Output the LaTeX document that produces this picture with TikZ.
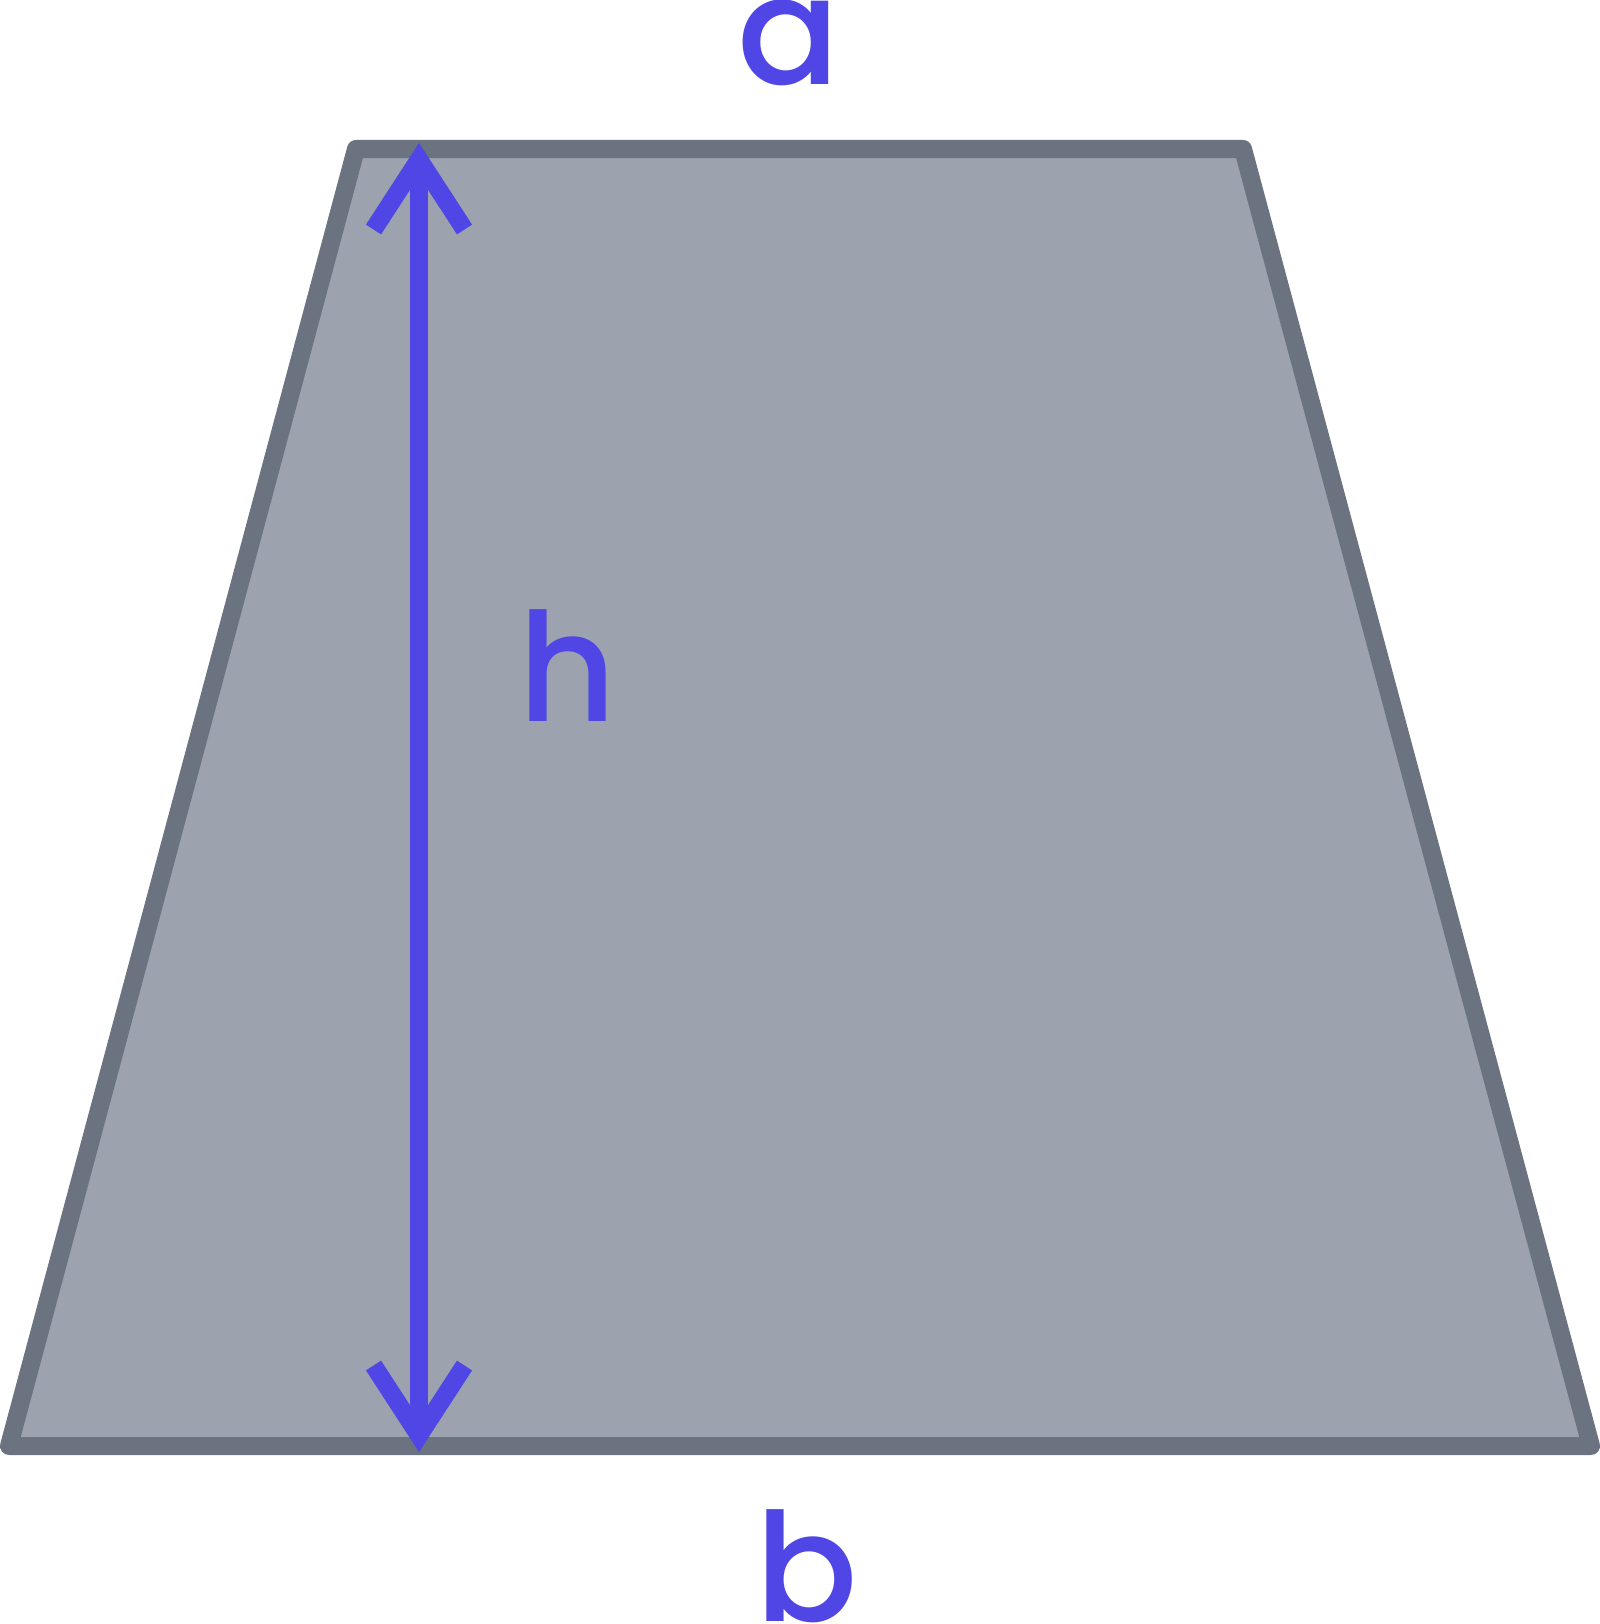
\documentclass[tikz,border=0pt]{standalone}
\usepackage{fontspec}
\setmainfont{Poppins Medium}
\usepackage{tikz}
\usetikzlibrary{calc,positioning}
\definecolor{ink}{HTML}{4F46E5}
\definecolor{edge}{HTML}{6B7280}
\definecolor{face}{HTML}{9CA3AF}
\tikzset{%
	side/.style = {draw=edge, fill=face, line width=0.18cm, line join=round},
	dim/.style  = {draw=ink, line width=0.18cm, line join=miter, line cap=butt},
	lbl/.style  = {text=ink, inner sep=0pt, anchor=base, font=\fontsize{43}{43}\selectfont},
}
\begin{document}
\begin{tikzpicture}[x=0.01cm,y=-0.01cm]
	\useasboundingbox (0,0) rectangle (1600,1624);
	% trapezium
	\draw[side] (356,149) -- (1243,149) -- (1591,1446) -- (9,1446) -- cycle;
	% height
	\coordinate (ht) at (419,159.5);
	\coordinate (hb) at (419,1435.5);
	\draw[dim] (ht) -- (hb);
	\draw[dim] ($(ht)+(-45.5,70)$) -- (ht) -- ($(ht)+(45.5,70)$);
	\draw[dim] ($(hb)+(-45.5,-70)$) -- (hb) -- ($(hb)+(45.5,-70)$);
	% labels
	\node[lbl] (a) at (789,84) {a};
	\node[lbl] (h) at (567.5,721) {h};
	\node[lbl] (b) at (807,1621) {b};
\end{tikzpicture}
\end{document}
